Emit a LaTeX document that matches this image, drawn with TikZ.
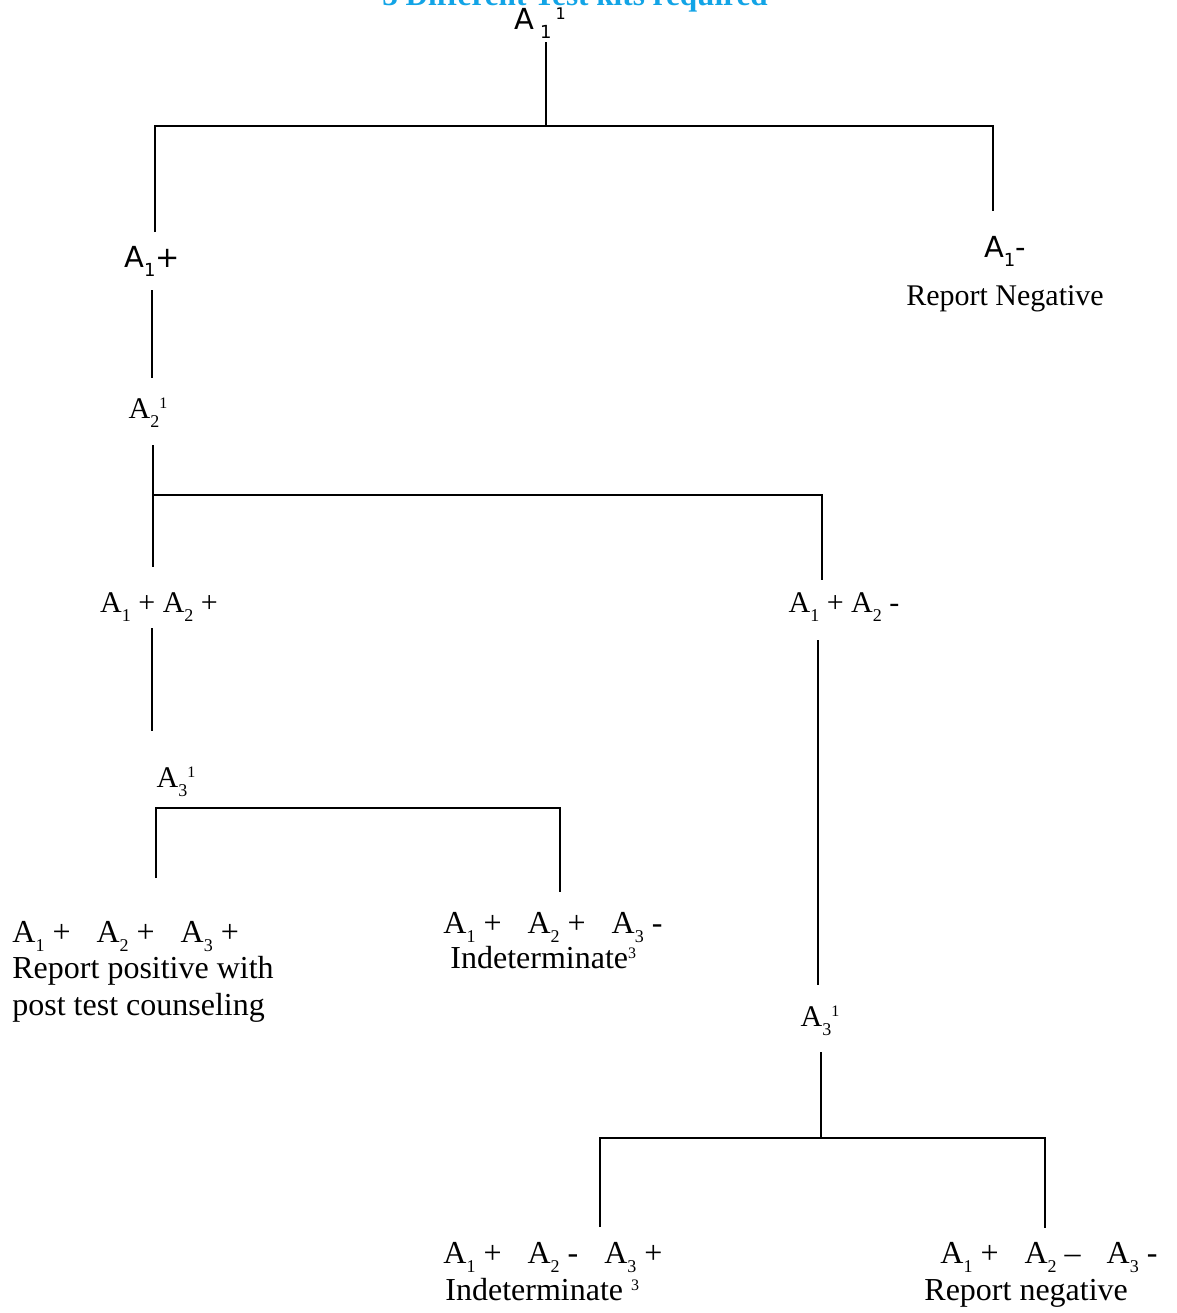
\documentclass[tikz,border=0pt]{standalone}
\usepackage{fontspec}
\setmainfont{Liberation Serif}
\newfontfamily\labsans{DejaVu Sans}
\usetikzlibrary{calc}
\definecolor{kitblue}{HTML}{12A4E6}
\newcommand{\lo}[1]{\raisebox{-4.5pt}{\fontsize{9}{9}\selectfont #1}}
\newcommand{\hi}[1]{\raisebox{5pt}{\fontsize{8}{8}\selectfont #1}}
\newcommand{\kgap}{\hspace{13pt}}
\tikzset{
  wire/.style  = {line width=1pt},
  lbl/.style   = {font=\fontsize{15}{18}\selectfont, inner sep=0pt, anchor=base},
  leaf/.style  = {font=\fontsize{16}{19}\selectfont, inner sep=0pt, anchor=base west},
  slbl/.style  = {font=\labsans\fontsize{14.5}{17}\selectfont, inner sep=0pt, anchor=base},
  title/.style = {font=\bfseries\fontsize{15.6}{18}\selectfont, text=kitblue, inner sep=0pt, anchor=base},
}

\begin{document}
\begin{tikzpicture}[x=0.5pt, y=-0.5pt]
  \useasboundingbox (0,0) rectangle (1177,1313);
  \node[title] (head) at (575,5) {3 Different Test kits required};
  \node[slbl] (a1) at (540,29) {A\hspace{3pt}\lo{1}\hspace{2pt}\hi{1}};
  \node[slbl] (a1pos) at (152,267) {A\lo{1}+};
  \node[slbl] (a1neg) at (1005,257) {A\lo{1}-};
  \node[lbl] (repneg) at (1005,305) {Report Negative};
  \node[lbl] (a2) at (148,418) {A\lo{2}\hi{1}};
  \node[lbl] (pp) at (159,612) {A\lo{1} + A\lo{2} +};
  \node[lbl] (pm) at (844,612) {A\lo{1} + A\lo{2} -};
  \node[lbl] (a3a) at (176,787) {A\lo{3}\hi{1}};
  \node[lbl] (a3b) at (820,1026) {A\lo{3}\hi{1}};
  % outcomes
  \node[leaf] (ppp) at (12,942) {A\lo{1} +\kgap A\lo{2} +\kgap A\lo{3} +};
  \node[leaf] (ppptxt) at (12,978) {Report positive with};
  \node[leaf] (ppptxtb) at (12,1015) {post test counseling};
  \node[leaf] (ppm) at (443,933) {A\lo{1} +\kgap A\lo{2} +\kgap A\lo{3} -};
  \node[leaf] (ppmtxt) at (450,968) {Indeterminate\hi{3}};
  \node[leaf] (pmp) at (443,1263) {A\lo{1} +\kgap A\lo{2} -\kgap A\lo{3} +};
  \node[leaf] (pmptxt) at (445,1300) {Indeterminate \hi{3}};
  \node[leaf] (pmm) at (940,1263) {A\lo{1} +\kgap A\lo{2} --\kgap A\lo{3} -};
  \node[leaf] (pmmtxt) at (924,1300) {Report negative};
  % tree lines
  \coordinate (j1) at (546,126);
  \coordinate (j1l) at (155,126);
  \coordinate (j1r) at (993,126);
  \draw[wire] ($(a1.base)+(6,13)$) -- (j1);
  \draw[wire] (j1l) ++(0,106) -- (j1l) -- (j1r) -- ++(0,85);
  \draw[wire] ($(a1pos.base)+(0,23)$) -- ($(a2.base)+(4,-40)$);
  \coordinate (j2) at (153,495);
  \coordinate (j2r) at (822,495);
  \draw[wire] ($(a2.base)+(5,27)$) -- ($(pp.base)+(-6,-45)$);
  \draw[wire] (j2) -- (j2r) -- ++(0,85);
  \draw[wire] ($(pp.base)+(-7,16)$) -- ($(a3a.base)+(-24,-56)$);
  \coordinate (j3l) at (156,808);
  \coordinate (j3r) at (560,808);
  \draw[wire] (j3l) ++(0,70) -- (j3l) -- (j3r) -- ++(0,84);
  \draw[wire] ($(pm.base)+(-26,28)$) -- ($(a3b.base)+(-2,-41)$);
  \coordinate (j4) at (821,1138);
  \coordinate (j4l) at (600,1138);
  \coordinate (j4r) at (1045,1138);
  \draw[wire] ($(a3b.base)+(1,26)$) -- (j4);
  \draw[wire] (j4l) ++(0,89) -- (j4l) -- (j4r) -- ++(0,90);
\end{tikzpicture}
\end{document}
